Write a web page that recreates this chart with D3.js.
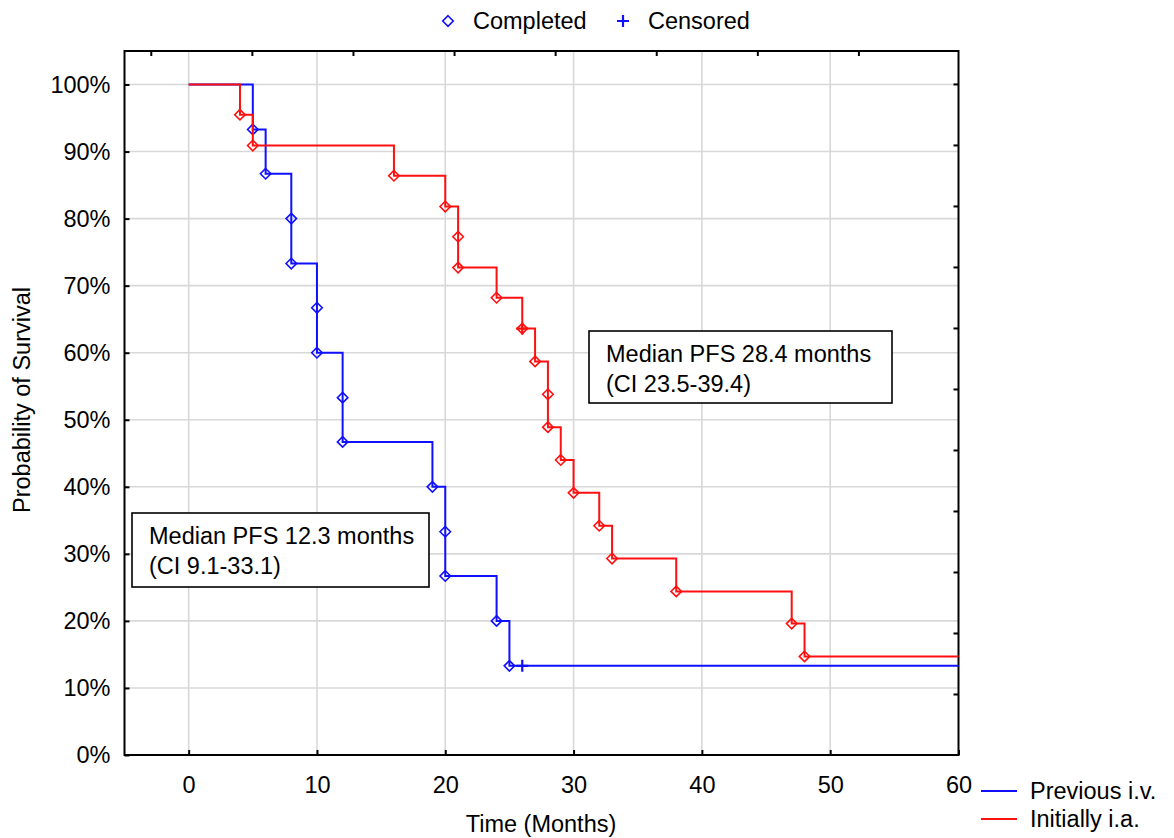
<!DOCTYPE html>
<html>
<head>
<meta charset="utf-8">
<script src="https://cdn.jsdelivr.net/npm/d3@7"></script>
<style>
  body { margin: 0; background: #fff; }
  text { font-family: "Liberation Sans", Arial, sans-serif; fill: #000; }
</style>
</head>
<body>
<div id="chart"></div>
<script>
// Kaplan-Meier data (time in months, survival in %)
var blueTimes = [5, 6, 8, 8, 10, 10, 12, 12, 19, 20, 20, 24, 25];
var blueSurv  = [93.3, 86.7, 80.0, 73.3, 66.7, 60.0, 53.3, 46.7, 40.0, 33.3, 26.7, 20.0, 13.3];
var blueCensored = [{t: 26, s: 13.3}];

var redTimes = [4, 5, 16, 20, 21, 21, 24, 26, 27, 28, 28, 29, 30, 32, 33, 38, 47, 48];
var redSurv  = [95.5, 90.9, 86.4, 81.8, 77.3, 72.7, 68.2, 63.6, 58.7, 53.8, 48.9, 44.0, 39.1, 34.2, 29.3, 24.4, 19.6, 14.7];
var redCensored = [{t: 26, s: 63.6}];

var xTicks = [0, 10, 20, 30, 40, 50, 60];
var yTicks = [0, 10, 20, 30, 40, 50, 60, 70, 80, 90, 100];
// the secondary (top / right) axes carry unlabelled ticks on their own scales
var topTicks = [0, 1, 2, 3, 4, 5, 6, 7];
var rightTicks = [1, 2, 3, 4, 5, 6, 7, 8, 9, 10, 11];

var seriesNames = ["Previous i.v.", "Initially i.a."];
var colors = ["#1010ff", "#ff1010"];

var width = 1174, height = 838;
var plotLeft = 124.5, plotRight = 958.5, plotTop = 51, plotBottom = 755;
var fontSize = "23.5px";

var svg = d3.select("#chart").append("svg")
  .attr("width", width)
  .attr("height", height);

svg.append("rect").attr("width", width).attr("height", height).attr("fill", "#fff");

var x = d3.scaleLinear().domain([-5, 60]).range([plotLeft, plotRight]);
var y = d3.scaleLinear().domain([0, 105]).range([plotBottom, plotTop]);
var xTop = d3.scaleLinear().domain([-0.26, 7.99]).range([plotLeft, plotRight]);
var yRight = d3.scaleLinear().domain([0, 11.54]).range([plotBottom, plotTop]);

// grid
svg.append("g").selectAll("line")
  .data(xTicks.filter(d => d < 60))
  .enter().append("line")
  .attr("x1", d => x(d)).attr("x2", d => x(d))
  .attr("y1", plotTop).attr("y2", plotBottom)
  .attr("stroke", "#d8d8d8").attr("stroke-width", 1.6);

svg.append("g").selectAll("line")
  .data(yTicks.filter(d => d > 0))
  .enter().append("line")
  .attr("x1", plotLeft).attr("x2", plotRight)
  .attr("y1", d => y(d)).attr("y2", d => y(d))
  .attr("stroke", "#d8d8d8").attr("stroke-width", 1.6);

// axes
var xAxis = svg.append("g")
  .attr("transform", "translate(0," + plotBottom + ")")
  .call(d3.axisBottom(x).tickValues(xTicks).tickSizeInner(-5).tickSizeOuter(0).tickPadding(21));
var yAxis = svg.append("g")
  .attr("transform", "translate(" + plotLeft + ",0)")
  .call(d3.axisLeft(y).tickValues(yTicks).tickFormat(d => d + "%").tickSizeInner(-5).tickSizeOuter(0).tickPadding(14));
var topAxis = svg.append("g")
  .attr("transform", "translate(0," + plotTop + ")")
  .call(d3.axisTop(xTop).tickValues(topTicks).tickFormat("").tickSizeInner(-5).tickSizeOuter(0));
var rightAxis = svg.append("g")
  .attr("transform", "translate(" + plotRight + ",0)")
  .call(d3.axisRight(yRight).tickValues(rightTicks).tickFormat("").tickSizeInner(-5).tickSizeOuter(0));

[xAxis, yAxis, topAxis, rightAxis].forEach(function(a) {
  a.select(".domain").remove();
  a.selectAll(".tick line").attr("stroke", "#000").attr("stroke-width", 2);
  a.selectAll("text")
    .style("font-family", "Liberation Sans, Arial, sans-serif")
    .style("font-size", fontSize)
    .attr("fill", "#000");
});

// frame
svg.append("rect")
  .attr("x", plotLeft).attr("y", plotTop)
  .attr("width", plotRight - plotLeft).attr("height", plotBottom - plotTop)
  .attr("fill", "none").attr("stroke", "#000").attr("stroke-width", 2);

// step curves
function stepPoints(times, surv) {
  var pts = [[0, 100]];
  var prev = 100;
  times.forEach(function(t, i) {
    pts.push([t, prev]);
    pts.push([t, surv[i]]);
    prev = surv[i];
  });
  pts.push([60, prev]);
  return pts;
}

var line = d3.line().x(d => x(d[0])).y(d => y(d[1]));

var diamond = {
  draw: function(ctx, size) {
    var r = Math.sqrt(size) / 2;
    ctx.moveTo(0, -r);
    ctx.lineTo(r, 0);
    ctx.lineTo(0, r);
    ctx.lineTo(-r, 0);
    ctx.closePath();
  }
};
var diamondPath = d3.symbol().type(diamond).size(110);

function plus(g, cx, cy, col) {
  g.append("path")
    .attr("d", "M" + (cx - 6) + "," + cy + "H" + (cx + 6) + "M" + cx + "," + (cy - 6) + "V" + (cy + 6))
    .attr("stroke", col).attr("stroke-width", 2.2).attr("fill", "none");
}

var series = [
  {times: blueTimes, surv: blueSurv, cens: blueCensored, color: colors[0]},
  {times: redTimes, surv: redSurv, cens: redCensored, color: colors[1]}
];

series.forEach(function(s) {
  var g = svg.append("g");
  g.append("path")
    .datum(stepPoints(s.times, s.surv))
    .attr("d", line)
    .attr("fill", "none")
    .attr("stroke", s.color)
    .attr("stroke-width", 2);

  g.selectAll(".event")
    .data(s.times.map((t, i) => [t, s.surv[i]]))
    .enter().append("path")
    .attr("transform", d => "translate(" + x(d[0]) + "," + y(d[1]) + ")")
    .attr("d", diamondPath)
    .attr("fill", "none")
    .attr("stroke", s.color)
    .attr("stroke-width", 1.6);

  s.cens.forEach(function(c) { plus(g, x(c.t), y(c.s), s.color); });
});

// annotation boxes
function noteBox(bx, by, bw, bh, lines) {
  svg.append("rect")
    .attr("x", bx).attr("y", by).attr("width", bw).attr("height", bh)
    .attr("fill", "#fff").attr("stroke", "#000").attr("stroke-width", 1.6);
  lines.forEach(function(t, i) {
    svg.append("text")
      .attr("x", bx + 17).attr("y", by + 31 + i * 30)
      .style("font-size", fontSize)
      .text(t);
  });
}
noteBox(132, 513, 297, 74, ["Median PFS 12.3 months", "(CI 9.1-33.1)"]);
noteBox(589, 331, 303, 72, ["Median PFS 28.4 months", "(CI 23.5-39.4)"]);

// top legend
svg.append("path")
  .attr("transform", "translate(448,21)")
  .attr("d", diamondPath)
  .attr("fill", "none").attr("stroke", colors[0]).attr("stroke-width", 1.6);
svg.append("text").attr("x", 473).attr("y", 29).style("font-size", fontSize).text("Completed");
plus(svg, 623, 21, colors[0]);
svg.append("text").attr("x", 648).attr("y", 29).style("font-size", fontSize).text("Censored");

// bottom right legend
seriesNames.forEach(function(n, i) {
  var ly = 791 + i * 28;
  svg.append("line")
    .attr("x1", 981).attr("x2", 1017).attr("y1", ly).attr("y2", ly)
    .attr("stroke", colors[i]).attr("stroke-width", 2);
  svg.append("text").attr("x", 1030).attr("y", ly + 8).style("font-size", fontSize).text(n);
});

// axis titles
svg.append("text")
  .attr("x", 541).attr("y", 832)
  .attr("text-anchor", "middle")
  .style("font-size", fontSize)
  .text("Time (Months)");
svg.append("text")
  .attr("transform", "translate(30,400) rotate(-90)")
  .attr("text-anchor", "middle")
  .style("font-size", fontSize)
  .text("Probability of Survival");
</script>
</body>
</html>
